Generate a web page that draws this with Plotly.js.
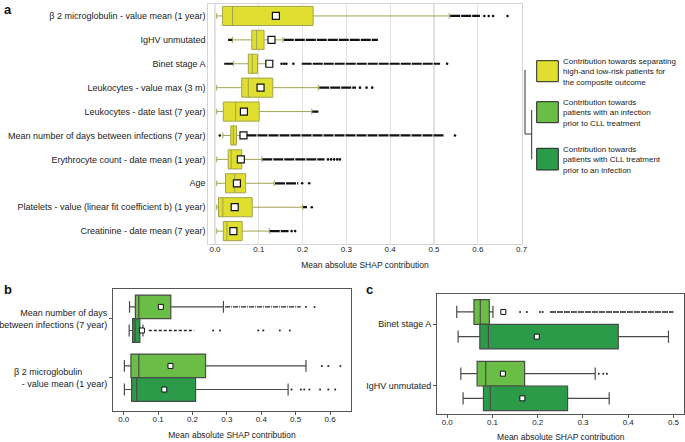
<!DOCTYPE html>
<html><head><meta charset="utf-8">
<script src="https://cdn.plot.ly/plotly-3.0.1.min.js"></script>
<style>html,body{margin:0;padding:0;background:#fff}#chart{width:685px;height:442px}</style>
</head><body><div id="chart"></div>
<script>
// ---------- Panel a : composite outcome ----------
const aLabels = [
  "β 2 microglobulin - value mean (1 year)",
  "IgHV unmutated",
  "Binet stage A",
  "Leukocytes - value max (3 m)",
  "Leukocytes - date last (7 year)",
  "Mean number of days between infections (7 year)",
  "Erythrocyte count - date mean (1 year)",
  "Age",
  "Platelets - value (linear fit coefficient b) (1 year)",
  "Creatinine - date mean (7 year)"
];
const aLowerFence = [0.004, 0.040, 0.042, 0.004, 0.004, 0.018, 0.004, 0.004, 0.004, 0.004];
const aQ1         = [0.017, 0.084, 0.076, 0.061, 0.019, 0.036, 0.030, 0.024, 0.008, 0.019];
const aMedian     = [0.040, 0.095, 0.085, 0.076, 0.047, 0.042, 0.037, 0.045, 0.018, 0.027];
const aQ3         = [0.224, 0.112, 0.097, 0.132, 0.101, 0.049, 0.061, 0.070, 0.085, 0.062];
const aUpperFence = [0.535, 0.155, 0.116, 0.236, 0.221, 0.059, 0.107, 0.135, 0.200, 0.124];
const aMean       = [0.139, 0.129, 0.124, 0.104, 0.066, 0.065, 0.059, 0.050, 0.045, 0.042];
const aOutlierRuns = [
  [[0.537, 0.605]],
  [[0.030, 0.039], [0.157, 0.372]],
  [[0.021, 0.041], [0.198, 0.514]],
  [[0.238, 0.322]],
  [[0.222, 0.236]],
  [[0.072, 0.522]],
  [[0.108, 0.250]],
  [[0.137, 0.190]],
  [[0.201, 0.210]],
  [[0.125, 0.168]]
];
const aOutlierDots = [
  [0.615, 0.625, 0.635, 0.668],
  [],
  [0.152, 0.158, 0.163, 0.179, 0.530],
  [0.331, 0.346, 0.359],
  [],
  [0.011, 0.548],
  [0.258, 0.265, 0.272, 0.279, 0.285],
  [0.199, 0.215],
  [0.221],
  [0.175, 0.183]
];
const aTicks = [0, 0.1, 0.2, 0.3, 0.4, 0.5, 0.6, 0.7];

// ---------- Panel b ----------
const bLabels = [
  "Mean number of days<br>between infections (7 year)",
  "β 2 microglobulin" + "\u00a0".repeat(10) + "<br>- value mean (1 year)"
];
const bInfLower  = [0.017, 0.002];
const bInfQ1     = [0.034, 0.021];
const bInfMedian = [0.044, 0.044];
const bInfQ3     = [0.137, 0.238];
const bInfUpper  = [0.290, 0.530];
const bInfMean   = [0.108, 0.136];
const bTrtLower  = [0.016, 0.002];
const bTrtQ1     = [0.026, 0.023];
const bTrtMedian = [0.033, 0.038];
const bTrtQ3     = [0.047, 0.209];
const bTrtUpper  = [0.056, 0.478];
const bTrtMean   = [0.053, 0.118];
const bInfOutlierRuns = [[[0.295, 0.515]], []];
const bInfOutlierDots = [[0.530, 0.555], [0.576, 0.595, 0.630]];
const bTrtOutlierRuns = [[[0.073, 0.205]], []];
const bTrtOutlierDots = [[0.260, 0.280, 0.391, 0.406, 0.454, 0.483], [0.488, 0.515, 0.525, 0.540, 0.571, 0.595, 0.615]];
const bTicks = [0, 0.1, 0.2, 0.3, 0.4, 0.5, 0.6];

// ---------- Panel c ----------
const cLabels = ["Binet stage A", "IgHV unmutated"];
const cInfLower  = [0.021, 0.030];
const cInfQ1     = [0.059, 0.066];
const cInfMedian = [0.073, 0.085];
const cInfQ3     = [0.093, 0.171];
const cInfUpper  = [0.101, 0.327];
const cInfMean   = [0.124, 0.123];
const cTrtLower  = [0.024, 0.035];
const cTrtQ1     = [0.072, 0.080];
const cTrtMedian = [0.091, 0.095];
const cTrtQ3     = [0.378, 0.266];
const cTrtUpper  = [0.489, 0.358];
const cTrtMean   = [0.198, 0.166];
const cInfOutlierRuns = [[[0.227, 0.500]], []];
const cInfOutlierDots = [[0.161, 0.176, 0.205, 0.211], [0.335, 0.345, 0.353]];
const cTicks = [0, 0.1, 0.2, 0.3, 0.4, 0.5];

const legendTexts = [
  "Contribution towards separating<br>high-and low-risk patients for<br>the composite outcome",
  "Contribution towards<br>patients with an infection<br>prior to CLL treatment",
  "Contribution towards<br>patients with CLL treatment<br>prior to an infection"
];

// ---------- styles ----------
const FONT = "Liberation Sans, Arial, Helvetica, sans-serif";
const YELLOW = "#e0df2f", LIGHT = "#6abd45", DARK = "#2b9a49";
const W = 685, H = 442;
const px = p => p / W, py = p => 1 - p / H;

function runsTrace(runs, pos, xa, ya, color, width, dash) {
  const x = [], y = [];
  runs.forEach((list, i) => list.forEach(r => { x.push(r[0], r[1], null); y.push(pos[i], pos[i], null); }));
  return {type: "scatter", mode: "lines", x, y, xaxis: xa, yaxis: ya, hoverinfo: "skip",
          line: {color, width, dash}, showlegend: false};
}
function dotsTrace(dots, pos, xa, ya, color, size) {
  const x = [], y = [];
  dots.forEach((list, i) => list.forEach(v => { x.push(v); y.push(pos[i]); }));
  return {type: "scatter", mode: "markers", x, y, xaxis: xa, yaxis: ya, hoverinfo: "skip",
          marker: {color, size, symbol: "circle"}, showlegend: false};
}
function meanTrace(vals, pos, xa, ya, size, lw) {
  return {type: "scatter", mode: "markers", x: vals, y: pos, xaxis: xa, yaxis: ya, hoverinfo: "skip",
          marker: {symbol: "square", size, color: "#ffffff", line: {color: "#111", width: lw}}, showlegend: false};
}
function boxTrace(pos, lf, q1, med, q3, uf, xa, ya, fill, lc, lw, width, ww) {
  return {type: "box", orientation: "h", y: pos, lowerfence: lf, q1, median: med, q3, upperfence: uf,
          xaxis: xa, yaxis: ya, fillcolor: fill, line: {color: lc, width: lw}, width, whiskerwidth: ww,
          boxpoints: false, hoverinfo: "skip", showlegend: false};
}

const aPos = aLabels.map((_, i) => i);
const bPosInf = bLabels.map((_, i) => i - 0.2), bPosTrt = bLabels.map((_, i) => i + 0.2);
const cPosInf = cLabels.map((_, i) => i - 0.2), cPosTrt = cLabels.map((_, i) => i + 0.2);

const data = [
  boxTrace(aPos, aLowerFence, aQ1, aMedian, aQ3, aUpperFence, "x", "y", YELLOW, "#a3a34f", 1, 0.8, 0.3),
  runsTrace(aOutlierRuns, aPos, "x", "y", "#111", 2.2, "10px,1px"),
  dotsTrace(aOutlierDots, aPos, "x", "y", "#111", 2.6),
  meanTrace(aMean, aPos, "x", "y", 7, 1.2),

  boxTrace(bPosInf, bInfLower, bInfQ1, bInfMedian, bInfQ3, bInfUpper, "x2", "y2", LIGHT, "#4a4a4a", 1.2, 0.4, 0.5),
  boxTrace(bPosTrt, bTrtLower, bTrtQ1, bTrtMedian, bTrtQ3, bTrtUpper, "x2", "y2", DARK, "#4a4a4a", 1.2, 0.4, 0.5),
  runsTrace(bInfOutlierRuns, bPosInf, "x2", "y2", "#222", 1.4, "5px,1px,1px,1px"),
  runsTrace(bTrtOutlierRuns, bPosTrt, "x2", "y2", "#222", 1.4, "3px,2px"),
  dotsTrace(bInfOutlierDots, bPosInf, "x2", "y2", "#222", 2),
  dotsTrace(bTrtOutlierDots, bPosTrt, "x2", "y2", "#222", 2),
  meanTrace(bInfMean, bPosInf, "x2", "y2", 5, 1),
  meanTrace(bTrtMean, bPosTrt, "x2", "y2", 5, 1),

  boxTrace(cPosInf, cInfLower, cInfQ1, cInfMedian, cInfQ3, cInfUpper, "x3", "y3", LIGHT, "#4a4a4a", 1.2, 0.4, 0.5),
  boxTrace(cPosTrt, cTrtLower, cTrtQ1, cTrtMedian, cTrtQ3, cTrtUpper, "x3", "y3", DARK, "#4a4a4a", 1.2, 0.4, 0.5),
  runsTrace(cInfOutlierRuns, cPosInf, "x3", "y3", "#222", 1.6, "6px,1px"),
  dotsTrace(cInfOutlierDots, cPosInf, "x3", "y3", "#222", 2),
  meanTrace(cInfMean, cPosInf, "x3", "y3", 5, 1),
  meanTrace(cTrtMean, cPosTrt, "x3", "y3", 5, 1)
];

const tickFont = {family: FONT, size: 8, color: "#222"};
const catFont = {family: FONT, size: 9, color: "#222"};
const titleFont = {family: FONT, size: 8.5, color: "#222"};

function xAxis(dom, range, ticks, anchor, light) {
  return {domain: dom, range, anchor, tickvals: ticks, tickformat: ".1f", tickfont: tickFont,
          showline: true, mirror: true, linecolor: light ? "#d4d4d4" : "#555", linewidth: light ? 1 : 1.2,
          showgrid: !!light, gridcolor: "#e2e2e2", gridwidth: 1.2, zeroline: false,
          ticks: light ? "" : "outside", ticklen: 3, tickcolor: "#555", ticklabelstandoff: -3,
          title: {text: "Mean absolute SHAP contribution", font: titleFont, standoff: 9}, fixedrange: true};
}
function yAxis(dom, range, labels, anchor, light) {
  return {domain: dom, range, anchor, tickvals: labels.map((_, i) => i), ticktext: labels, tickfont: catFont,
          showline: true, mirror: true, linecolor: light ? "#d4d4d4" : "#555", linewidth: light ? 1 : 1.2,
          showgrid: false, zeroline: false, ticks: light ? "" : "outside", ticklen: 3, tickcolor: "#555",
          fixedrange: true};
}

const layout = {
  width: W, height: H, margin: {l: 0, r: 0, t: 0, b: 0}, paper_bgcolor: "#fff", plot_bgcolor: "#fff",
  showlegend: false, boxmode: "overlay", font: {family: FONT, color: "#222"},
  xaxis:  xAxis([px(208.3), px(521.7)], [-0.0153, 0.7003], aTicks, "y", true),
  yaxis:  yAxis([py(244), py(4)], [9.54, -0.5], aLabels, "x", true),
  xaxis2: xAxis([px(113.3), px(350.7)], [-0.0302, 0.66], bTicks, "y2", false),
  yaxis2: yAxis([py(411), py(289.3)], [1.564, -0.498], bLabels, "x2", false),
  xaxis3: xAxis([px(437.3), px(684.3)], [-0.022, 0.524], cTicks, "y3", false),
  yaxis3: yAxis([py(414), py(294)], [1.454, -0.491], cLabels, "x3", false),
  shapes: [
    {type: "rect", xref: "paper", yref: "paper", x0: px(536.7), x1: px(558.3), y0: py(81.7), y1: py(60.7), fillcolor: YELLOW, line: {color: "#222", width: 1}},
    {type: "rect", xref: "paper", yref: "paper", x0: px(536.7), x1: px(558.3), y0: py(122.7), y1: py(101.7), fillcolor: LIGHT, line: {color: "#222", width: 1}},
    {type: "rect", xref: "paper", yref: "paper", x0: px(536.7), x1: px(558.3), y0: py(170), y1: py(148.3), fillcolor: DARK, line: {color: "#222", width: 1}},
    {type: "path", xref: "paper", yref: "paper",
     path: `M ${px(525)} ${py(70)} L ${px(525)} ${py(134)} L ${px(531.7)} ${py(134)}`, line: {color: "#333", width: 1}},
    {type: "line", xref: "paper", yref: "paper", x0: px(531.7), x1: px(531.7), y0: py(110), y1: py(159.3), line: {color: "#333", width: 1}}
  ],
  annotations: [
    {text: "<b>a</b>", xref: "paper", yref: "paper", x: px(2), y: py(0), xanchor: "left", yanchor: "top", showarrow: false, font: {family: FONT, size: 13, color: "#111"}},
    {text: "<b>b</b>", xref: "paper", yref: "paper", x: px(2), y: py(280), xanchor: "left", yanchor: "top", showarrow: false, font: {family: FONT, size: 13, color: "#111"}},
    {text: "<b>c</b>", xref: "paper", yref: "paper", x: px(364), y: py(280), xanchor: "left", yanchor: "top", showarrow: false, font: {family: FONT, size: 13, color: "#111"}},
    ...legendTexts.map((t, i) => ({text: t, xref: "paper", yref: "paper", x: px(561), y: py([72, 112.5, 159.5][i]),
      xanchor: "left", yanchor: "middle", align: "left", showarrow: false, font: {family: FONT, size: 8, color: "#222"}}))
  ]
};

Plotly.newPlot("chart", data, layout, {staticPlot: true, displayModeBar: false});
</script></body></html>
